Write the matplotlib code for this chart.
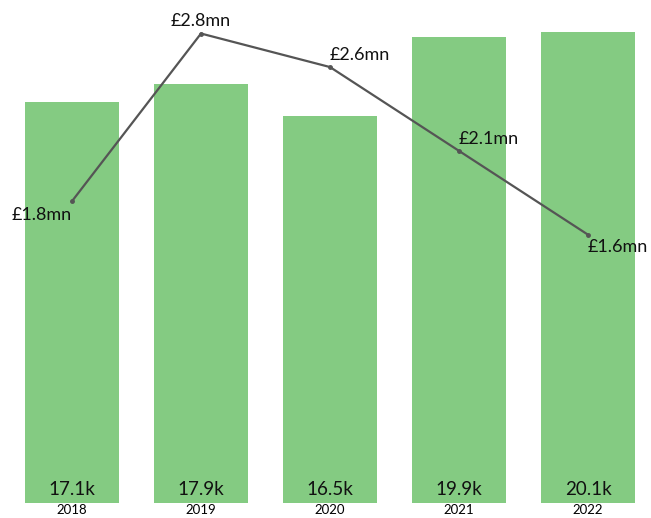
import matplotlib.pyplot as plt

# Bar values (thousands) and line values (millions of pounds)
years = ['2018', '2019', '2020', '2021', '2022']
counts = [17.1, 17.9, 16.5, 19.9, 20.1]
count_labels = ['17.1k', '17.9k', '16.5k', '19.9k', '20.1k']
amounts = [1.8, 2.8, 2.6, 2.1, 1.6]
amount_labels = ['£1.8mn', '£2.8mn', '£2.6mn', '£2.1mn', '£1.6mn']

plt.rcParams['font.family'] = ['Lato', 'DejaVu Sans']

fig = plt.figure(figsize=(6.51, 5.18), dpi=100)
ax = fig.add_axes([0, 15 / 518, 1, 503 / 518])
x = range(len(years))

ax.bar(x, counts, width=0.73, color='#84CB82')
ax.set_xlim(-0.558, 4.488)
ax.set_ylim(0, 21.47)
for i, lab in enumerate(count_labels):
    ax.text(i, 0.22, lab, ha='center', va='bottom', fontsize=13.5, color='#111111')

ax.set_xticks(list(x))
ax.set_xticklabels(years, fontsize=9.5)
ax.tick_params(axis='x', length=0, pad=1)
ax.set_yticks([])
for s in ax.spines.values():
    s.set_visible(False)

# Line on a secondary axis
ax2 = ax.twinx()
ax2.set_ylim(0, 3.0)
ax2.plot(x, amounts, color='#555555', lw=1.6, marker='o', ms=2.5)
ax2.set_yticks([])
for s in ax2.spines.values():
    s.set_visible(False)

# label placement per point: (ha, va, dx, dy) in points
offsets = [('right', 'top', 0, -4), ('center', 'bottom', 0, 3),
           ('left', 'bottom', 0, 3), ('left', 'bottom', 0, 3),
           ('left', 'top', 0, -3)]
for i, (lab, (ha, va, dx, dy)) in enumerate(zip(amount_labels, offsets)):
    ax2.annotate(lab, (i, amounts[i]), xytext=(dx, dy), textcoords='offset points',
                 ha=ha, va=va, fontsize=13, color='#111111')

fig.savefig('out.png', dpi=100)
